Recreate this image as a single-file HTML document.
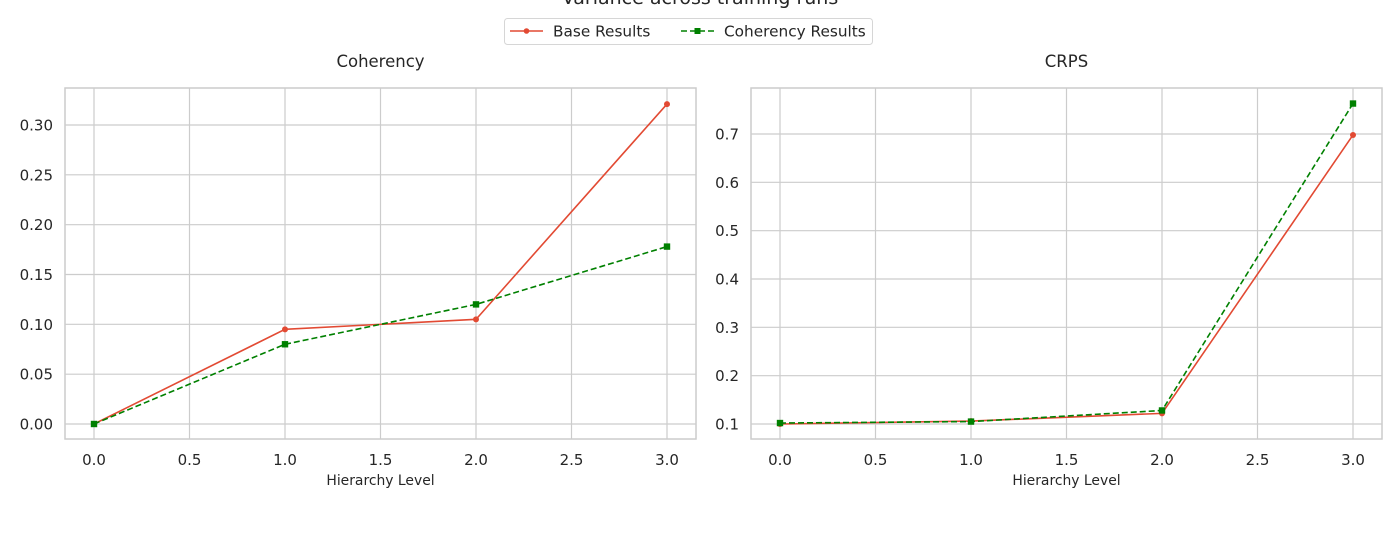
<!DOCTYPE html>
<html><head><meta charset="utf-8"><style>
body{margin:0;background:#fff;}
svg{font-family:"DejaVu Sans","Liberation Sans",sans-serif;}
</style></head><body>
<svg id="c" width="1400" height="550" xmlns="http://www.w3.org/2000/svg">
<text x="700" y="4" text-anchor="middle" font-size="19" fill="#262626">Variance across training runs</text>
<g>
<rect x="504.5" y="18.5" width="368" height="26" rx="3" fill="#fff" stroke="#d6d6d6"/>
<g>
<line x1="510" y1="31" x2="543" y2="31" stroke="#e24a33" stroke-width="1.6"/>
<circle cx="526.5" cy="31" r="2.8" fill="#e24a33"/>
<text x="553" y="36.5" font-size="15.3" fill="#262626">Base Results</text></g>
<g>
<line x1="681" y1="31" x2="714" y2="31" stroke="#008000" stroke-width="1.6" stroke-dasharray="6,3"/>
<rect x="694.5" y="28" width="6" height="6" fill="#008000"/>
<text x="724" y="36.5" font-size="15.3" fill="#262626">Coherency Results</text></g>
</g>
</svg>
<script>
const xTicks=[0,0.5,1,1.5,2,2.5,3];
const levels=[0,1,2,3];
const cohBase=[0,0.095,0.105,0.321];
const cohCoh=[0,0.080,0.120,0.178];
const cohYTicks=[0,0.05,0.10,0.15,0.20,0.25,0.30];
const cohYLabels=["0.00","0.05","0.10","0.15","0.20","0.25","0.30"];
const crpsBase=[0.100,0.106,0.122,0.698];
const crpsCoh=[0.102,0.105,0.128,0.763];
const crpsYTicks=[0.1,0.2,0.3,0.4,0.5,0.6,0.7];
const crpsYLabels=["0.1","0.2","0.3","0.4","0.5","0.6","0.7"];
const NS="http://www.w3.org/2000/svg";
const svg=document.getElementById('c');
function mk(t,a,p){const e=document.createElementNS(NS,t);for(const k in a)e.setAttribute(k,a[k]);(p||svg).appendChild(e);return e;}
function panel(name,title,L,R,yMin,yMax,yTopPx,yT,yL,base,coh){
  const T=88,B=439;
  const x0=L+29,x1=R-29;
  const xs=v=>x0+(v-0)/3*(x1-x0);
  const ys=v=>424-(v-yMin)/(yMax-yMin)*(424-yTopPx);
  const g=mk('g',{});
  
  
  const t=mk('text',{x:(L+R)/2,y:67,'text-anchor':'middle','font-size':16.5,fill:'#262626'},g);t.textContent=title;
  
  
  xTicks.forEach(v=>{mk('line',{x1:xs(v),x2:xs(v),y1:T,y2:B,stroke:'#cccccc','stroke-width':1.2},g);
    const l=mk('text',{x:xs(v),y:465,'text-anchor':'middle','font-size':15,fill:'#262626'},g);l.textContent=v.toFixed(1);
    
    });
  yT.forEach((v,i)=>{mk('line',{x1:L,x2:R,y1:ys(v),y2:ys(v),stroke:'#cccccc','stroke-width':1.2},g);
    const l=mk('text',{x:L-12,y:ys(v)+5.5,'text-anchor':'end','font-size':15,fill:'#262626'},g);l.textContent=yL[i];
    
    });
  mk('rect',{x:L,y:T,width:R-L,height:B-T,fill:'none',stroke:'#cccccc','stroke-width':1.5},g);
  const xl=mk('text',{x:(L+R)/2,y:485,'text-anchor':'middle','font-size':13.9,fill:'#262626'},g);xl.textContent='Hierarchy Level';
  
  
  const pb=mk('polyline',{points:levels.map((v,i)=>xs(v)+','+ys(base[i])).join(' '),fill:'none',stroke:'#e24a33','stroke-width':1.6},g);
  
  
  const pc=mk('polyline',{points:levels.map((v,i)=>xs(v)+','+ys(coh[i])).join(' '),fill:'none',stroke:'#008000','stroke-width':1.6,'stroke-dasharray':'6,3'},g);
  
  
  levels.forEach((v,i)=>{
    const c=mk('circle',{cx:xs(v),cy:ys(base[i]),r:3,fill:'#e24a33'},g);
    
    
    const s=mk('rect',{x:xs(v)-3.2,y:ys(coh[i])-3.2,width:6.4,height:6.4,fill:'#008000'},g);
    
    
  });
}
panel('coherency','Coherency',65,696,0,0.30,125,cohYTicks,cohYLabels,cohBase,cohCoh);
panel('crps','CRPS',751,1382,0.1,0.7,134,crpsYTicks,crpsYLabels,crpsBase,crpsCoh);
</script>
</body></html>
